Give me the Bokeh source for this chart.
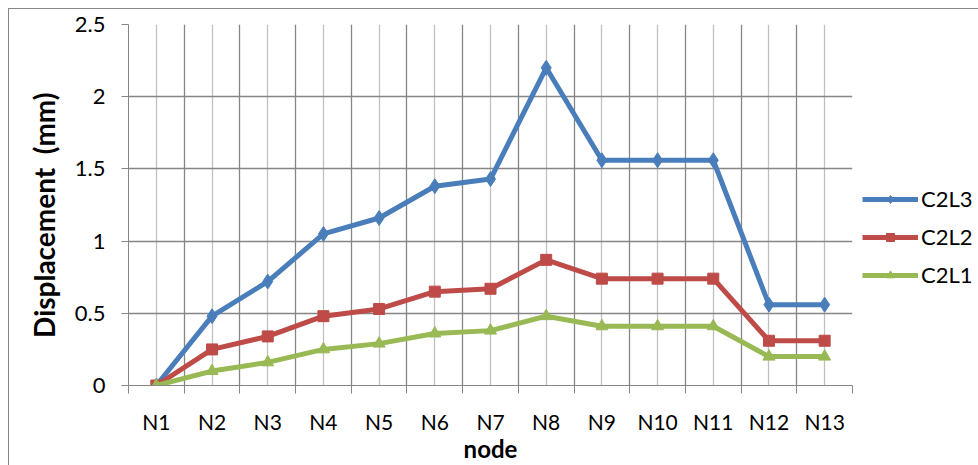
from bokeh.plotting import figure
from bokeh.models import FixedTicker, Range1d, Legend, LegendItem
from bokeh.embed import file_html
from bokeh.resources import INLINE

# ---- data ----
nodes = ["N1", "N2", "N3", "N4", "N5", "N6", "N7", "N8", "N9", "N10", "N11", "N12", "N13"]
c2l3 = [0, 0.48, 0.72, 1.05, 1.16, 1.38, 1.43, 2.20, 1.56, 1.56, 1.56, 0.56, 0.56]
c2l2 = [0, 0.25, 0.34, 0.48, 0.53, 0.65, 0.67, 0.87, 0.74, 0.74, 0.74, 0.31, 0.31]
c2l1 = [0, 0.10, 0.16, 0.25, 0.29, 0.36, 0.38, 0.48, 0.41, 0.41, 0.41, 0.20, 0.20]
y_ticks = [0, 0.5, 1, 1.5, 2, 2.5]
y_tick_labels = ["0", "0.5", "1", "1.5", "2", "2.5"]

FONT = "Lato"
DARK = "#868686"
LIGHT = "#C0C0C0"

xs = list(range(1, len(nodes) + 1))
bounds = [i + 0.5 for i in range(0, len(nodes) + 1)]

p = figure(frame_width=724, frame_height=361, output_backend="svg", toolbar_location=None,
           x_range=Range1d(0.5, len(nodes) + 0.5), y_range=Range1d(0, 2.5),
           min_border_left=119, min_border_right=110, min_border_top=15, min_border_bottom=70)
p.outline_line_color = None
p.background_fill_color = "white"
p.border_fill_color = "white"
p.styles = {"margin-left": "8px", "margin-top": "8px",
            "border-left": "1px solid #868686", "border-top": "1px solid #868686"}

# x axis: labels at centers, tick marks at category boundaries
p.xaxis.ticker = FixedTicker(ticks=xs, minor_ticks=bounds)
p.xaxis.major_label_overrides = {x: n for x, n in zip(xs, nodes)}
p.xaxis.major_tick_line_color = None
p.xaxis.major_tick_out = 0
p.xaxis.major_tick_in = 0
p.xaxis.minor_tick_line_color = DARK
p.xaxis.minor_tick_out = 8
p.xaxis.minor_tick_in = 0
p.xaxis.axis_line_color = DARK
p.xaxis.major_label_standoff = 15
p.xaxis.major_label_text_font = FONT
p.xaxis.major_label_text_font_size = "21px"
p.xaxis.major_label_text_color = "black"
p.xaxis.axis_label = "node"
p.xaxis.axis_label_text_font = FONT
p.xaxis.axis_label_text_font_size = "24px"
p.xaxis.axis_label_text_font_style = "bold"
p.xaxis.axis_label_text_color = "black"
p.xaxis.axis_label_standoff = -3

# y axis
p.yaxis.ticker = FixedTicker(ticks=y_ticks)
p.yaxis.major_label_overrides = {t: l for t, l in zip(y_ticks, y_tick_labels)}
p.yaxis.major_tick_line_color = DARK
p.yaxis.major_tick_out = 7
p.yaxis.major_tick_in = 0
p.yaxis.minor_tick_line_color = None
p.yaxis.axis_line_color = DARK
p.yaxis.major_label_standoff = 16
p.yaxis.major_label_text_font = FONT
p.yaxis.major_label_text_font_size = "22px"
p.yaxis.major_label_text_color = "black"
p.yaxis.axis_label = "Displacement\u00a0 (mm)\u00a0\u00a0\u00a0"
p.yaxis.axis_label_text_font = FONT
p.yaxis.axis_label_text_font_size = "28px"
p.yaxis.axis_label_text_font_style = "bold"
p.yaxis.axis_label_text_color = "black"
p.yaxis.axis_label_standoff = 11

# grids
p.xgrid.ticker = FixedTicker(ticks=xs, minor_ticks=bounds)
p.xgrid.grid_line_color = LIGHT
p.xgrid.grid_line_width = 1.3
p.xgrid.minor_grid_line_color = DARK
p.xgrid.minor_grid_line_width = 1.3
p.ygrid.ticker = FixedTicker(ticks=y_ticks)
p.ygrid.grid_line_color = DARK
p.ygrid.grid_line_width = 1.3

series = [
    ("C2L3", c2l3, "#4A7EBB", "diamond", 15),
    ("C2L2", c2l2, "#BE4B48", "square", 11),
    ("C2L1", c2l1, "#98B954", "triangle", 12),
]
items = []
for name, ys, color, marker, size in series:
    ln = p.line(xs, ys, line_color=color, line_width=5)
    sc = p.scatter(xs, ys, marker=marker, size=size, fill_color=color, line_color=color)
    items.append(LegendItem(label=name, renderers=[ln, sc]))

legend = Legend(items=items, location=(10, 97), orientation="vertical")
legend.border_line_color = None
legend.background_fill_color = None
legend.label_text_font = FONT
legend.label_text_font_size = "22px"
legend.label_text_color = "black"
legend.glyph_width = 56
legend.glyph_height = 20
legend.label_height = 20
legend.label_standoff = 3
legend.spacing = 11
legend.padding = 6
legend.margin = 0
p.add_layout(legend, "right")

open("out.html", "w").write(file_html(p, INLINE))
